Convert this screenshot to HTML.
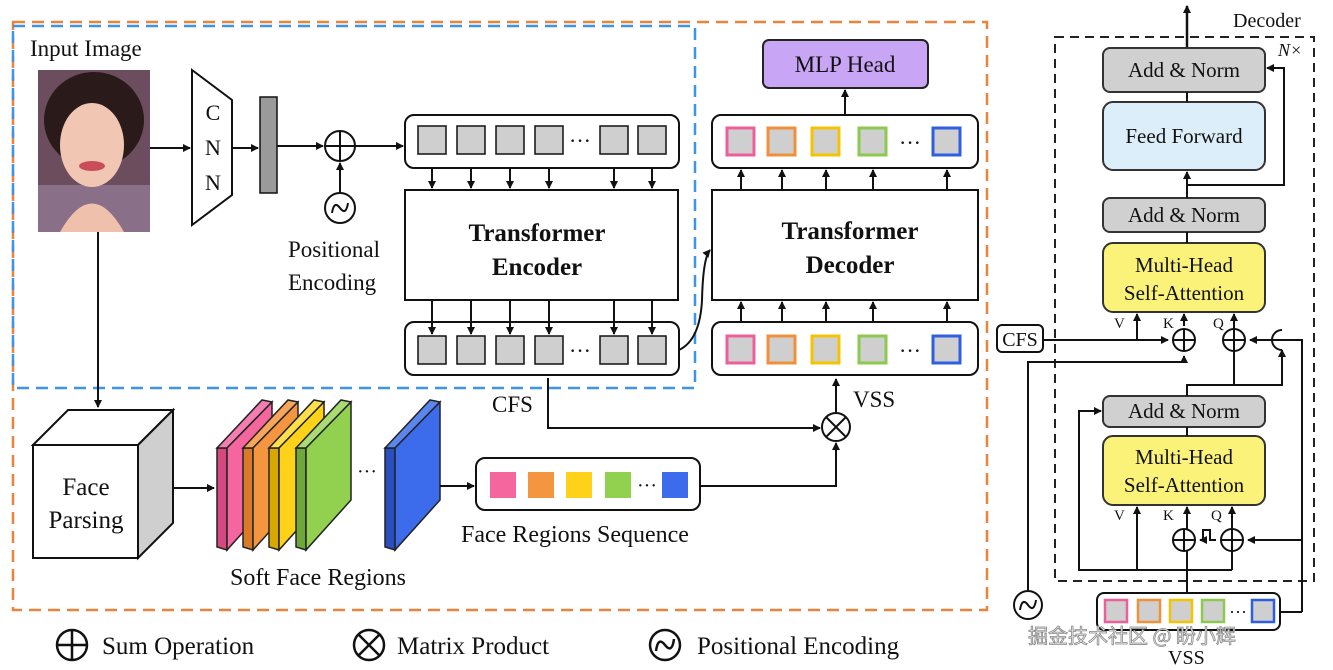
<!DOCTYPE html>
<html><head><meta charset="utf-8"><style>
html,body{margin:0;padding:0;background:#fff}
svg{display:block}
text{font-family:"Liberation Serif",serif;fill:#111}
</style></head><body>
<svg width="1333" height="670" viewBox="0 0 1333 670" xmlns="http://www.w3.org/2000/svg">
<defs>
<marker id="a" markerWidth="8" markerHeight="8" refX="7" refY="4" orient="auto" markerUnits="userSpaceOnUse"><path d="M0,0 L8,4 L0,8 z" fill="#111"/></marker>
</defs>
<rect x="13" y="22" width="974" height="588" fill="none" stroke="#e8843c" stroke-width="2.5" stroke-dasharray="12,7"/>
<rect x="13" y="26" width="682" height="362" fill="none" stroke="#3e95e8" stroke-width="2.5" stroke-dasharray="12,7"/>

<text x="30" y="56" font-size="23">Input Image</text>
<rect x="38" y="70" width="112" height="162" fill="#6b4d5e"/>
<ellipse cx="94" cy="120" rx="50" ry="48" fill="#2a1a1a"/>
<rect x="38" y="185" width="112" height="47" fill="#8a6f88"/>
<ellipse cx="92" cy="145" rx="32" ry="42" fill="#f1c7b3"/>
<path d="M60,232 Q92,175 124,232 z" fill="#efc0ab"/>
<ellipse cx="92" cy="166" rx="13" ry="5" fill="#c94d5a"/>

<line x1="150" y1="148" x2="190" y2="148" stroke="#111" stroke-width="2" marker-end="url(#a)"/>
<polygon points="192,70 232,100 232,195 192,225" fill="#fff" stroke="#111" stroke-width="2"/>
<text x="213" y="120" font-size="22" text-anchor="middle">C</text>
<text x="213" y="155" font-size="22" text-anchor="middle">N</text>
<text x="213" y="190" font-size="22" text-anchor="middle">N</text>
<line x1="232" y1="148" x2="258" y2="148" stroke="#111" stroke-width="2" marker-end="url(#a)"/>
<rect x="260" y="97" width="17" height="96" fill="#9a9a9a" stroke="#111" stroke-width="1.5"/>
<line x1="277" y1="146" x2="323" y2="146" stroke="#111" stroke-width="2" marker-end="url(#a)"/>
<circle cx="340" cy="146" r="15" fill="#fff" stroke="#111" stroke-width="2"/>
<line x1="325" y1="146" x2="355" y2="146" stroke="#111" stroke-width="2"/><line x1="340" y1="131" x2="340" y2="161" stroke="#111" stroke-width="2"/>
<line x1="340" y1="193" x2="340" y2="163" stroke="#111" stroke-width="2" marker-end="url(#a)"/>
<circle cx="340" cy="208" r="15" fill="#fff" stroke="#111" stroke-width="2"/>
<path d="M332,213 Q334,200 340,208 Q346,216 348,203" fill="none" stroke="#111" stroke-width="2"/>
<text x="288" y="257" font-size="23">Positional</text>
<text x="288" y="290" font-size="23">Encoding</text>
<line x1="355" y1="146" x2="403" y2="146" stroke="#111" stroke-width="2" marker-end="url(#a)"/>

<rect x="405" y="115" width="274" height="53" rx="9" fill="#fff" stroke="#111" stroke-width="2"/>
<rect x="405" y="322" width="274" height="53" rx="9" fill="#fff" stroke="#111" stroke-width="2"/>
<g fill="#cfcfcf" stroke="#111" stroke-width="1.5">
<rect x="418" y="126" width="28" height="28"/><rect x="457" y="126" width="28" height="28"/><rect x="496" y="126" width="28" height="28"/><rect x="535" y="126" width="28" height="28"/><rect x="600" y="126" width="28" height="28"/><rect x="638" y="126" width="28" height="28"/>
<rect x="418" y="336" width="28" height="28"/><rect x="457" y="336" width="28" height="28"/><rect x="496" y="336" width="28" height="28"/><rect x="535" y="336" width="28" height="28"/><rect x="600" y="336" width="28" height="28"/><rect x="638" y="336" width="28" height="28"/>
</g>
<text x="580" y="148" font-size="22" text-anchor="middle">···</text>
<text x="580" y="358" font-size="22" text-anchor="middle">···</text>
<g stroke="#111" stroke-width="2" marker-end="url(#a)">
<line x1="432" y1="168" x2="432" y2="188"/><line x1="471" y1="168" x2="471" y2="188"/><line x1="510" y1="168" x2="510" y2="188"/><line x1="549" y1="168" x2="549" y2="188"/><line x1="614" y1="168" x2="614" y2="188"/><line x1="652" y1="168" x2="652" y2="188"/>
<line x1="432" y1="300" x2="432" y2="334"/><line x1="471" y1="300" x2="471" y2="334"/><line x1="510" y1="300" x2="510" y2="334"/><line x1="549" y1="300" x2="549" y2="334"/><line x1="614" y1="300" x2="614" y2="334"/><line x1="652" y1="300" x2="652" y2="334"/>
</g>
<rect x="405" y="190" width="273" height="110" fill="#fff" stroke="#111" stroke-width="2"/>
<text x="537" y="241" font-size="25" font-weight="bold" text-anchor="middle">Transformer</text>
<text x="537" y="275" font-size="25" font-weight="bold" text-anchor="middle">Encoder</text>
<path d="M679,350 Q700,340 702,300 Q703,258 710,250" fill="none" stroke="#111" stroke-width="2" marker-end="url(#a)"/>

<rect x="763" y="40" width="165" height="48" rx="6" fill="#c9a6f5" stroke="#222" stroke-width="2"/>
<text x="845" y="72" font-size="23" text-anchor="middle">MLP Head</text>
<line x1="845" y1="114" x2="845" y2="90" stroke="#111" stroke-width="2" marker-end="url(#a)"/>
<rect x="712" y="115" width="266" height="53" rx="9" fill="#fff" stroke="#111" stroke-width="2"/>
<rect x="712" y="322" width="266" height="53" rx="9" fill="#fff" stroke="#111" stroke-width="2"/>
<g fill="#cfcfcf" stroke-width="3">
<rect x="727" y="128" width="27" height="27" stroke="#ee5f99"/><rect x="768" y="128" width="27" height="27" stroke="#f0913a"/><rect x="812" y="128" width="27" height="27" stroke="#f5c400"/><rect x="859" y="128" width="27" height="27" stroke="#8cc94f"/><rect x="933" y="128" width="27" height="27" stroke="#2f5fe0"/>
<rect x="727" y="336" width="27" height="27" stroke="#ee5f99"/><rect x="768" y="336" width="27" height="27" stroke="#f0913a"/><rect x="812" y="336" width="27" height="27" stroke="#f5c400"/><rect x="859" y="336" width="27" height="27" stroke="#8cc94f"/><rect x="933" y="336" width="27" height="27" stroke="#2f5fe0"/>
</g>
<text x="910" y="150" font-size="22" text-anchor="middle">···</text>
<text x="910" y="358" font-size="22" text-anchor="middle">···</text>
<g stroke="#111" stroke-width="2" marker-end="url(#a)">
<line x1="741" y1="190" x2="741" y2="170"/><line x1="782" y1="190" x2="782" y2="170"/><line x1="826" y1="190" x2="826" y2="170"/><line x1="873" y1="190" x2="873" y2="170"/><line x1="947" y1="190" x2="947" y2="170"/>
<line x1="741" y1="322" x2="741" y2="302"/><line x1="782" y1="322" x2="782" y2="302"/><line x1="826" y1="322" x2="826" y2="302"/><line x1="873" y1="322" x2="873" y2="302"/><line x1="947" y1="322" x2="947" y2="302"/>
</g>
<rect x="712" y="190" width="266" height="110" fill="#fff" stroke="#111" stroke-width="2"/>
<text x="850" y="239" font-size="25" font-weight="bold" text-anchor="middle">Transformer</text>
<text x="850" y="273" font-size="25" font-weight="bold" text-anchor="middle">Decoder</text>

<text x="492" y="412" font-size="23">CFS</text>
<polyline points="548,378 548,428 820,428" fill="none" stroke="#111" stroke-width="2" marker-end="url(#a)"/>
<circle cx="836" cy="427" r="14" fill="#fff" stroke="#111" stroke-width="2"/>
<path d="M826,417 L846,437 M846,417 L826,437" stroke="#111" stroke-width="2"/>
<line x1="836" y1="413" x2="836" y2="379" stroke="#111" stroke-width="2" marker-end="url(#a)"/>
<text x="853" y="407" font-size="23">VSS</text>
<polyline points="700,486 836,486 836,443" fill="none" stroke="#111" stroke-width="2" marker-end="url(#a)"/>

<line x1="98" y1="232" x2="98" y2="407" stroke="#111" stroke-width="2" marker-end="url(#a)"/>
<polygon points="33,445 68,410 173,410 138,445" fill="#fff" stroke="#111" stroke-width="2"/>
<polygon points="138,445 173,410 173,523 138,558" fill="#cfcfcf" stroke="#111" stroke-width="2"/>
<rect x="33" y="445" width="105" height="113" fill="#fff" stroke="#111" stroke-width="2"/>
<text x="86" y="495" font-size="25" text-anchor="middle">Face</text>
<text x="86" y="528" font-size="25" text-anchor="middle">Parsing</text>
<line x1="173" y1="488" x2="214" y2="488" stroke="#111" stroke-width="2" marker-end="url(#a)"/>

<g stroke="#222" stroke-width="1.5">
<g transform="translate(217,0)"><polygon points="0,448 10,448 10,550 0,547" fill="#d6497f"/><polygon points="0,448 45,400 55,402 10,448" fill="#f47eb0"/><polygon points="10,448 55,402 55,500 10,550" fill="#f5669e"/></g>
<g transform="translate(243,0)"><polygon points="0,448 10,448 10,550 0,547" fill="#d97a28"/><polygon points="0,448 45,400 55,402 10,448" fill="#f6a65a"/><polygon points="10,448 55,402 55,500 10,550" fill="#f4963f"/></g>
<g transform="translate(269,0)"><polygon points="0,448 10,448 10,550 0,547" fill="#d9a800"/><polygon points="0,448 45,400 55,402 10,448" fill="#ffe04a"/><polygon points="10,448 55,402 55,500 10,550" fill="#ffd21a"/></g>
<g transform="translate(296,0)"><polygon points="0,448 10,448 10,550 0,547" fill="#6ea83a"/><polygon points="0,448 45,400 55,402 10,448" fill="#a8dc72"/><polygon points="10,448 55,402 55,500 10,550" fill="#92d050"/></g>
<g transform="translate(385,0)"><polygon points="0,448 10,448 10,550 0,547" fill="#2a4fc0"/><polygon points="0,448 45,400 55,402 10,448" fill="#5a86ee"/><polygon points="10,448 55,402 55,500 10,550" fill="#3c6cec"/></g>
</g>
<text x="367" y="478" font-size="20" text-anchor="middle">···</text>
<line x1="440" y1="486" x2="474" y2="486" stroke="#111" stroke-width="2" marker-end="url(#a)"/>
<text x="230" y="585" font-size="24">Soft Face Regions</text>
<rect x="476" y="458" width="224" height="52" rx="9" fill="#fff" stroke="#111" stroke-width="2"/>
<rect x="490" y="472" width="26" height="26" fill="#f5669e"/><rect x="528" y="472" width="26" height="26" fill="#f4963f"/><rect x="566" y="472" width="26" height="26" fill="#ffd21a"/><rect x="605" y="472" width="26" height="26" fill="#92d050"/><rect x="662" y="472" width="26" height="26" fill="#3c6cec"/>
<text x="647" y="492" font-size="20" text-anchor="middle">···</text>
<text x="461" y="542" font-size="24">Face Regions Sequence</text>

<circle cx="72" cy="645" r="15" fill="#fff" stroke="#111" stroke-width="2.5"/>
<path d="M57,645 H87 M72,630 V660" stroke="#111" stroke-width="2.5"/>
<text x="102" y="654" font-size="25">Sum Operation</text>
<circle cx="369" cy="645" r="15" fill="#fff" stroke="#111" stroke-width="2.5"/>
<path d="M358,634 L380,656 M380,634 L358,656" stroke="#111" stroke-width="2.5"/>
<text x="397" y="654" font-size="25">Matrix Product</text>
<circle cx="665" cy="645" r="15" fill="#fff" stroke="#111" stroke-width="2.5"/>
<path d="M656,651 Q658,636 665,645 Q672,654 674,639" fill="none" stroke="#111" stroke-width="2.5"/>
<text x="697" y="654" font-size="25">Positional Encoding</text>

<text x="1233" y="27" font-size="20">Decoder</text>
<rect x="1055" y="37" width="259" height="544" fill="none" stroke="#222" stroke-width="2" stroke-dasharray="9,6"/>
<text x="1278" y="56" font-size="18" font-style="italic">N×</text>
<line x1="1187" y1="48" x2="1187" y2="6" stroke="#111" stroke-width="2.5" marker-end="url(#a)"/>
<g stroke="#333" stroke-width="2">
<rect x="1103" y="48" width="162" height="44" rx="7" fill="#d0d0d0"/>
<rect x="1103" y="102" width="162" height="68" rx="10" fill="#ddeefb"/>
<rect x="1103" y="198" width="162" height="34" rx="7" fill="#d0d0d0"/>
<rect x="1103" y="243" width="162" height="69" rx="10" fill="#fbf27a"/>
<rect x="1103" y="396" width="162" height="31" rx="7" fill="#d0d0d0"/>
<rect x="1103" y="436" width="162" height="69" rx="10" fill="#fbf27a"/>
</g>
<g font-size="21" text-anchor="middle">
<text x="1184" y="77">Add &amp; Norm</text>
<text x="1184" y="143">Feed Forward</text>
<text x="1184" y="222">Add &amp; Norm</text>
<text x="1184" y="272">Multi-Head</text><text x="1184" y="300">Self-Attention</text>
<text x="1184" y="418">Add &amp; Norm</text>
<text x="1184" y="464">Multi-Head</text><text x="1184" y="492">Self-Attention</text>
</g>
<g stroke="#111" stroke-width="2" fill="none">
<line x1="1187" y1="92" x2="1187" y2="102"/>
<line x1="1187" y1="198" x2="1187" y2="172" marker-end="url(#a)"/>
<polyline points="1187,185 1284,185 1284,68 1267,68" marker-end="url(#a)"/>
<line x1="1187" y1="232" x2="1187" y2="243"/>
<line x1="1187" y1="427" x2="1187" y2="436"/>
<polyline points="1187,396 1187,385 1282,385 1282,350 M1282,330 1282,205 1267,205" marker-end="url(#a)"/>
<path d="M1282,350 A10,10 0 0 1 1282,330"/>
<line x1="1234" y1="385" x2="1234" y2="314" marker-end="url(#a)"/>
<line x1="1137" y1="340" x2="1137" y2="314" marker-end="url(#a)"/>
<line x1="1184" y1="326" x2="1184" y2="314" marker-end="url(#a)"/>
<polyline points="1043,340 1168,340" marker-end="url(#a)"/>
<polyline points="1302,612 1302,340 1250,340" marker-end="url(#a)"/>
<polyline points="1028,590 1028,362 1184,362 1184,356" marker-end="url(#a)"/>
<line x1="1187" y1="593" x2="1187" y2="507" marker-end="url(#a)"/>
<polyline points="1232,570 1079,570 1079,411 1101,411" marker-end="url(#a)"/>
<line x1="1137" y1="570" x2="1137" y2="507" marker-end="url(#a)"/>
<line x1="1232" y1="570" x2="1232" y2="507" marker-end="url(#a)"/>
<polyline points="1302,540 1248,540" marker-end="url(#a)"/>
<polyline points="1216,540 1210,540 1210,530 1203,530 1203,540 1200,540" marker-end="url(#a)"/>
<line x1="1280" y1="612" x2="1302" y2="612"/>
</g>
<g fill="#fff" stroke="#111" stroke-width="2">
<circle cx="1184" cy="340" r="11"/><circle cx="1234" cy="340" r="11"/>
<circle cx="1184" cy="540" r="11"/><circle cx="1232" cy="540" r="11"/>
</g>
<path d="M1173,340 H1195 M1184,329 V351 M1223,340 H1245 M1234,329 V351 M1173,540 H1195 M1184,529 V551 M1221,540 H1243 M1232,529 V551" stroke="#111" stroke-width="2"/>
<g font-size="15"><text x="1114" y="328">V</text><text x="1163" y="328">K</text><text x="1213" y="328">Q</text>
<text x="1114" y="520">V</text><text x="1163" y="520">K</text><text x="1211" y="520">Q</text></g>
<rect x="997" y="325" width="46" height="27" rx="5" fill="#fff" stroke="#111" stroke-width="2"/>
<text x="1020" y="346" font-size="20" text-anchor="middle">CFS</text>
<circle cx="1028" cy="605" r="14" fill="#fff" stroke="#111" stroke-width="2"/>
<path d="M1020,610 Q1022,597 1028,605 Q1034,613 1036,600" fill="none" stroke="#111" stroke-width="2"/>
<rect x="1097" y="593" width="183" height="37" rx="7" fill="#fff" stroke="#111" stroke-width="2"/>
<g fill="#cfcfcf" stroke-width="2.5">
<rect x="1105" y="600" width="22" height="22" stroke="#ee5f99"/><rect x="1138" y="600" width="22" height="22" stroke="#f0913a"/><rect x="1170" y="600" width="22" height="22" stroke="#f5c400"/><rect x="1202" y="600" width="22" height="22" stroke="#8cc94f"/><rect x="1252" y="600" width="22" height="22" stroke="#2f5fe0"/>
</g>
<text x="1238" y="618" font-size="18" text-anchor="middle">···</text>
<text x="1168" y="664" font-size="20" fill="#999">VSS</text>
<text x="1028" y="643" font-size="20" style="font-family:'Noto Sans CJK SC',sans-serif;fill:#f4f4f4;stroke:#888;stroke-width:0.8">掘金技术社区 @ 盼小辉</text>
</svg>
</body></html>
